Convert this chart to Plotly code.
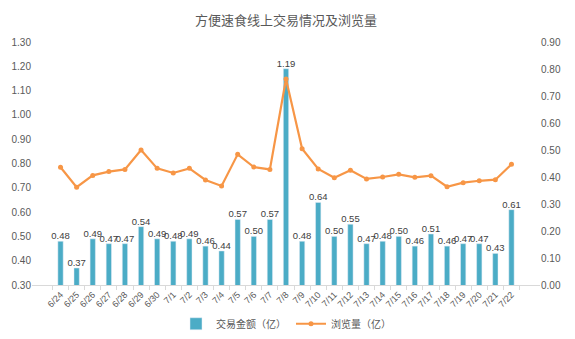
import plotly.graph_objects as go

dates = ["6/24", "6/25", "6/26", "6/27", "6/28", "6/29", "6/30",
         "7/1", "7/2", "7/3", "7/4", "7/5", "7/6", "7/7", "7/8", "7/9", "7/10",
         "7/11", "7/12", "7/13", "7/14", "7/15", "7/16", "7/17", "7/18", "7/19",
         "7/20", "7/21", "7/22"]
amount = [0.48, 0.37, 0.49, 0.47, 0.47, 0.54, 0.49, 0.48, 0.49, 0.46, 0.44,
          0.57, 0.50, 0.57, 1.19, 0.48, 0.64, 0.50, 0.55, 0.47, 0.48, 0.50,
          0.46, 0.51, 0.46, 0.47, 0.47, 0.43, 0.61]
views = [0.436, 0.362, 0.406, 0.420, 0.428, 0.500, 0.432, 0.415, 0.432, 0.389,
         0.367, 0.484, 0.437, 0.428, 0.763, 0.505, 0.430, 0.397, 0.425, 0.393,
         0.400, 0.410, 0.399, 0.405, 0.364, 0.379, 0.386, 0.390, 0.447]
left_ticks = [0.30, 0.40, 0.50, 0.60, 0.70, 0.80, 0.90, 1.00, 1.10, 1.20, 1.30]
right_ticks = [0.00, 0.10, 0.20, 0.30, 0.40, 0.50, 0.60, 0.70, 0.80, 0.90]

FONT = "Liberation Sans, Arial, Noto Sans CJK SC, sans-serif"

fig = go.Figure()
fig.add_trace(go.Bar(
    x=dates, y=amount, name="交易金额（亿）",
    marker_color="#4BACC6", width=0.33,
    text=[f"{v:.2f}" for v in amount], textposition="outside",
    constraintext="none",
    textfont=dict(size=9.5, color="#404040", family=FONT),
    cliponaxis=False,
))
fig.add_trace(go.Scatter(
    x=dates, y=views, name="浏览量（亿）", yaxis="y2",
    mode="lines+markers",
    line=dict(color="#F79646", width=2.2),
    marker=dict(color="#F79646", size=5),
))

fig.update_layout(
    width=575, height=339,
    margin=dict(l=32, r=35, t=42, b=54),
    paper_bgcolor="white", plot_bgcolor="white",
    font=dict(family=FONT, color="#595959", size=10),
    title=dict(text="方便速食线上交易情况及浏览量", x=0.5, xanchor="center",
               xref="paper",
               y=0.94, yanchor="middle",
               font=dict(size=13, color="#595959", family=FONT)),
    showlegend=True,
    legend=dict(orientation="h", x=0.5, xanchor="center",
                yref="container", y=0.045, yanchor="middle",
                font=dict(size=10, color="#595959", family=FONT),
                itemwidth=30),
    xaxis=dict(showline=True, linecolor="#D9D9D9", linewidth=1,
               ticks="outside", ticklen=4, tickcolor="#D9D9D9",
               tickson="boundaries", automargin=False,
               tickangle=-45, tickfont=dict(size=9, color="#595959"),
               showgrid=False),
    yaxis=dict(range=[0.30, 1.30], tickvals=left_ticks,
               ticktext=[f"{v:.2f}" for v in left_ticks],
               showgrid=False, zeroline=False, showline=False,
               automargin=False,
               tickfont=dict(size=10, color="#595959")),
    yaxis2=dict(range=[0.0, 0.90], tickvals=right_ticks,
                ticktext=[f"{v:.2f}" for v in right_ticks],
                overlaying="y", side="right", automargin=False,
                showgrid=False, zeroline=False, showline=False,
                tickfont=dict(size=10, color="#595959")),
)

fig.write_html("out.html")
